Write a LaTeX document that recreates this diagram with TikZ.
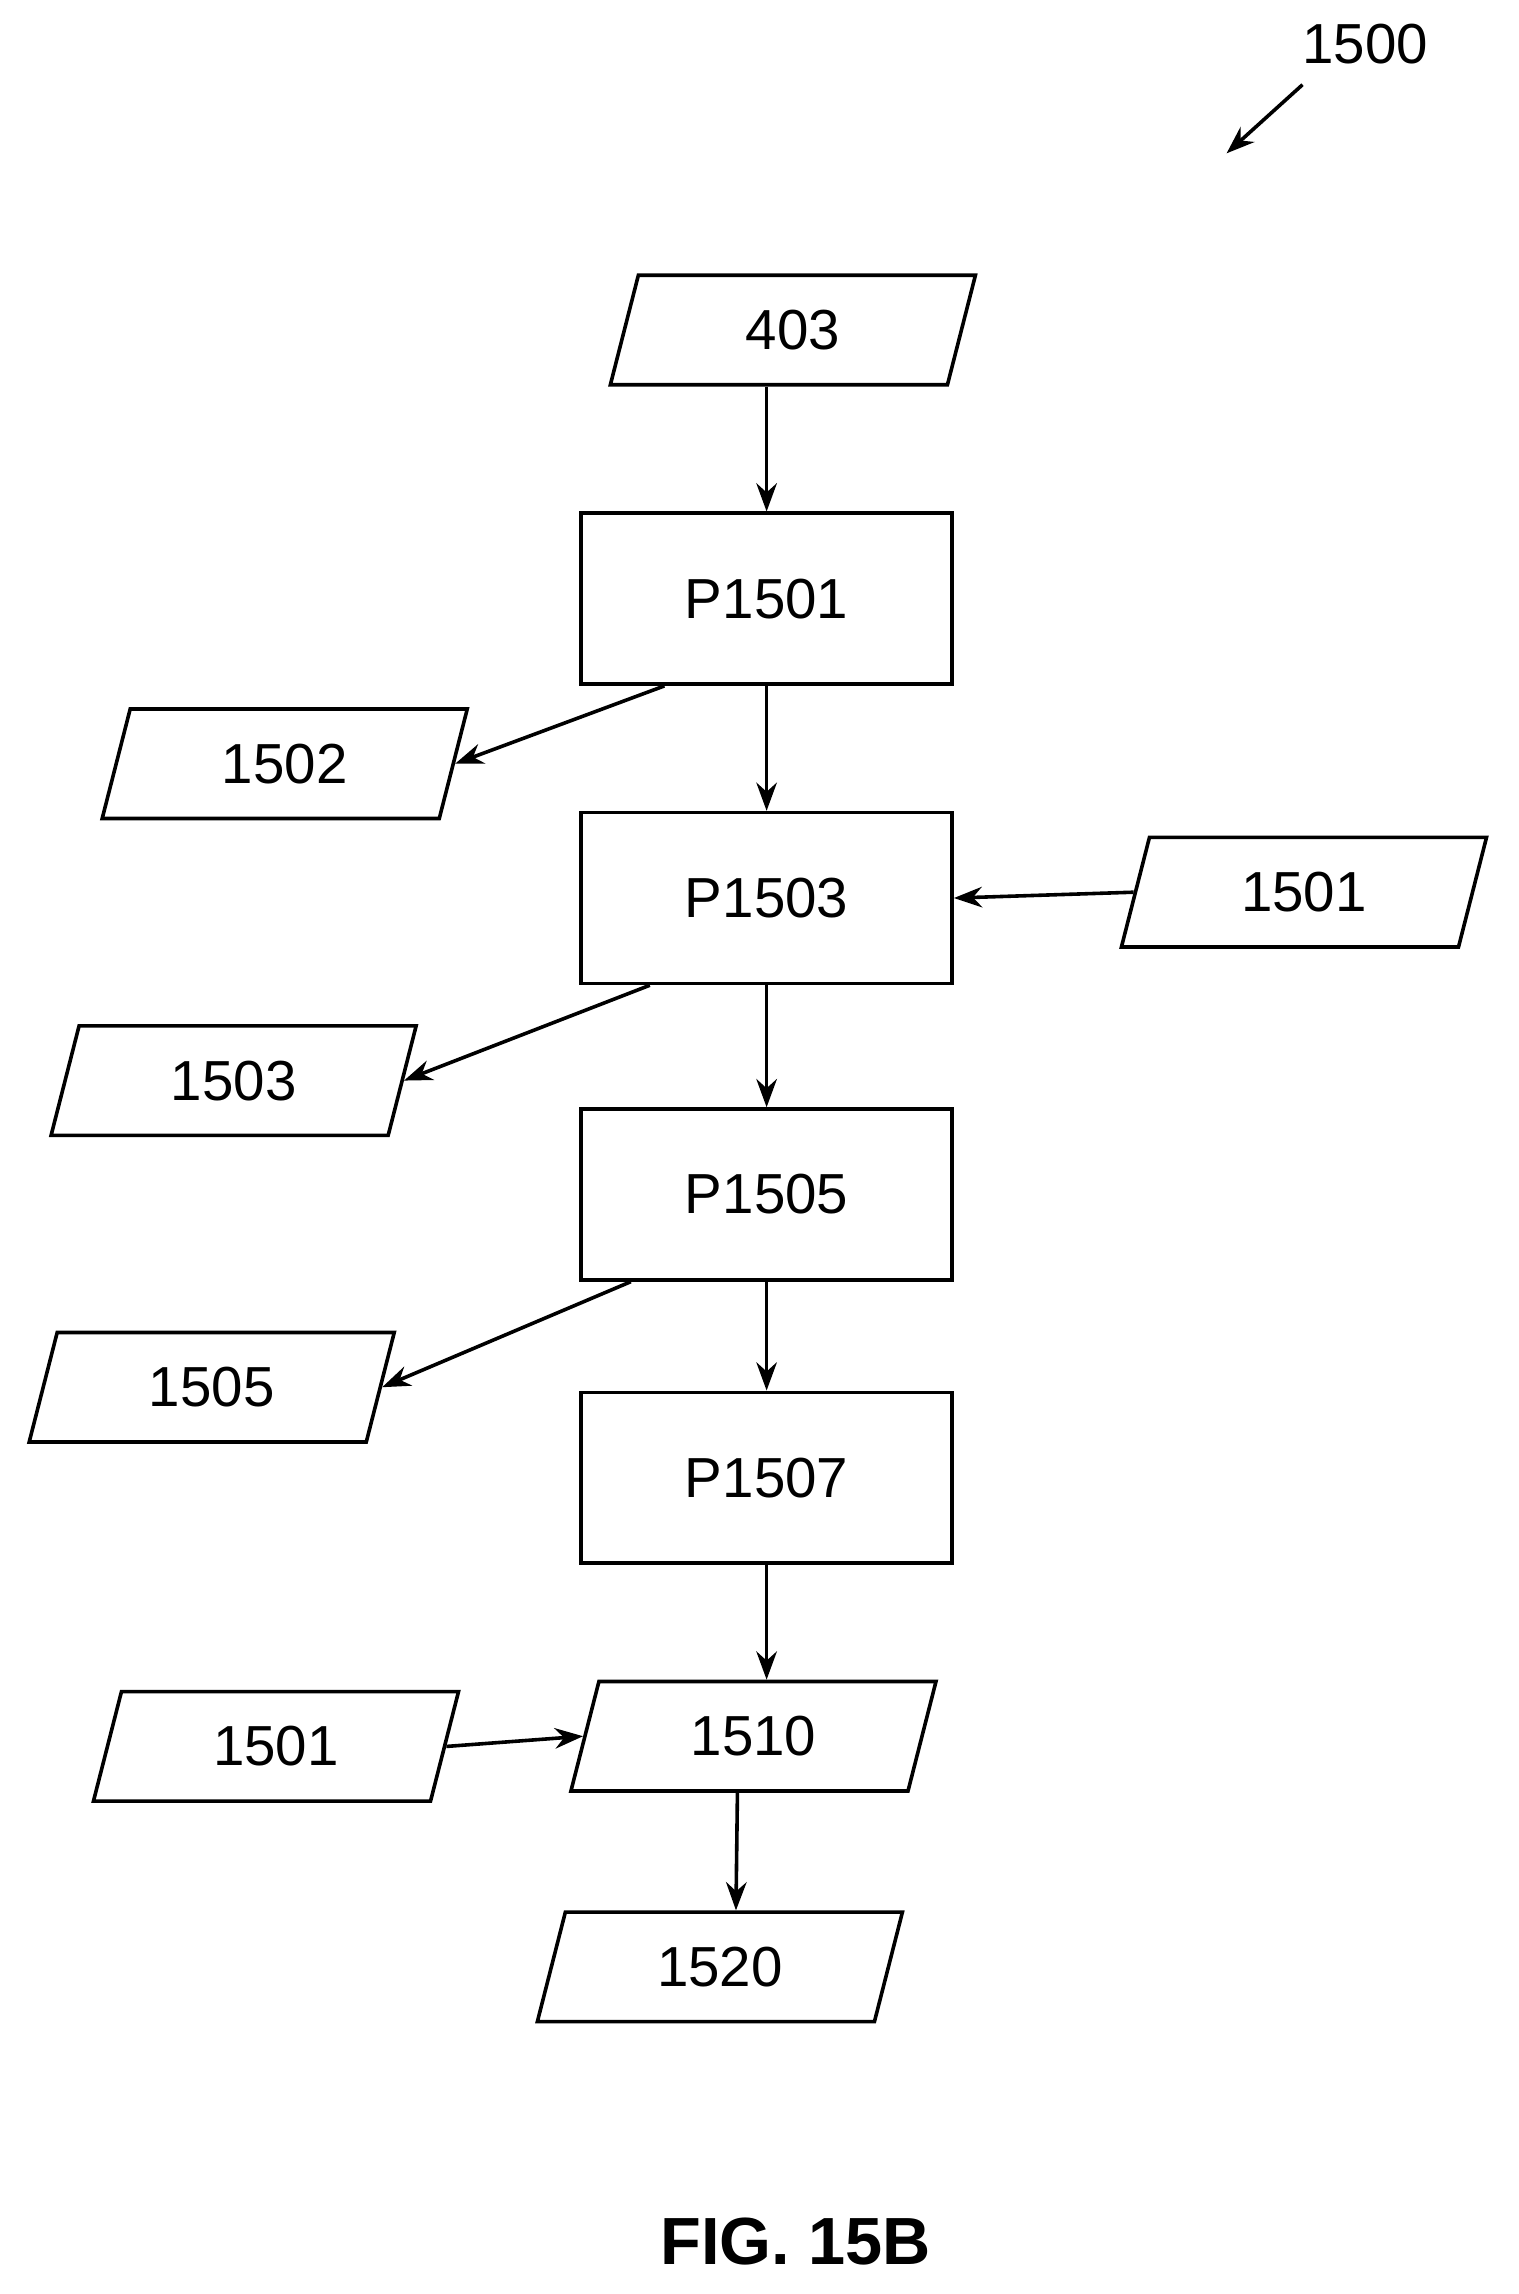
\documentclass[tikz,border=0pt]{standalone}
\usepackage{fontspec}
\setmainfont{Liberation Sans}
\usetikzlibrary{shapes.geometric,arrows.meta,calc}
\begin{document}
\begin{tikzpicture}[%
% common options for process boxes:
proc/.style = {draw, line width=1.4pt, minimum width=5.08cm, minimum height=2.34cm,
            inner sep=0, font=\fontsize{22}{26}\selectfont},
% common options for data blocks:
data/.style = {draw, line width=1.4pt, trapezium, trapezium left angle=55,
            trapezium right angle=125, trapezium stretches body,
            minimum width=5.0cm, minimum height=1.5cm, inner sep=0,
            font=\fontsize{22}{26}\selectfont},
flow/.style = {line width=1.4pt, -{Stealth[length=11pt,width=8pt]}}]
\useasboundingbox (0,0) rectangle (20.8,-31.42);
\node[data] (D403) at (10.86,-4.52) {403};
\node[proc] (P1501) at (10.5,-8.2) {P1501};
\node[data] (D1502) at (3.9,-10.46) {1502};
\node[proc] (P1503) at (10.5,-12.3) {P1503};
\node[data] (D1501a) at (17.86,-12.22) {1501};
\node[data] (D1503) at (3.2,-14.8) {1503};
\node[proc] (P1505) at (10.5,-16.36) {P1505};
\node[data] (D1505) at (2.9,-19.0) {1505};
\node[proc] (P1507) at (10.5,-20.24) {P1507};
\node[data] (D1510) at (10.32,-23.78) {1510};
\node[data] (D1501b) at (3.78,-23.92) {1501};
\node[data] (D1520) at (9.86,-26.94) {1520};
\node[font=\fontsize{22}{26}\selectfont] (L1500) at (18.7,-0.6) {1500};
\coordinate (A1500) at (16.8,-2.1);
\draw[flow] (17.84,-1.16) -- (A1500);
\node[font=\bfseries\fontsize{26}{30}\selectfont] (FIG) at (10.9,-30.7) {FIG. 15B};
\draw[flow] (D403.south -| P1501.north) -- (P1501.north);
\draw[flow] (P1501) -- (P1503);
\draw[flow] (P1503) -- (P1505);
\draw[flow] (P1505) -- (P1507);
\draw[flow] (P1507.south) -- (D1510.north -| P1507.south);
\draw[flow] ($(P1501.south)+(-1.4,0)$) -- (D1502.east);
\draw[flow] ($(P1503.south)+(-1.6,0)$) -- (D1503.east);
\draw[flow] ($(P1505.south)+(-1.86,0)$) -- (D1505.east);
\draw[flow] (D1501a.west) -- (P1503.east);
\draw[flow] (D1501b.east) -- (D1510.west);
\draw[flow] ($(D1510.south)+(-0.22,0)$) -- ($(D1520.north)+(0.22,0)$);
\end{tikzpicture}
\end{document}
